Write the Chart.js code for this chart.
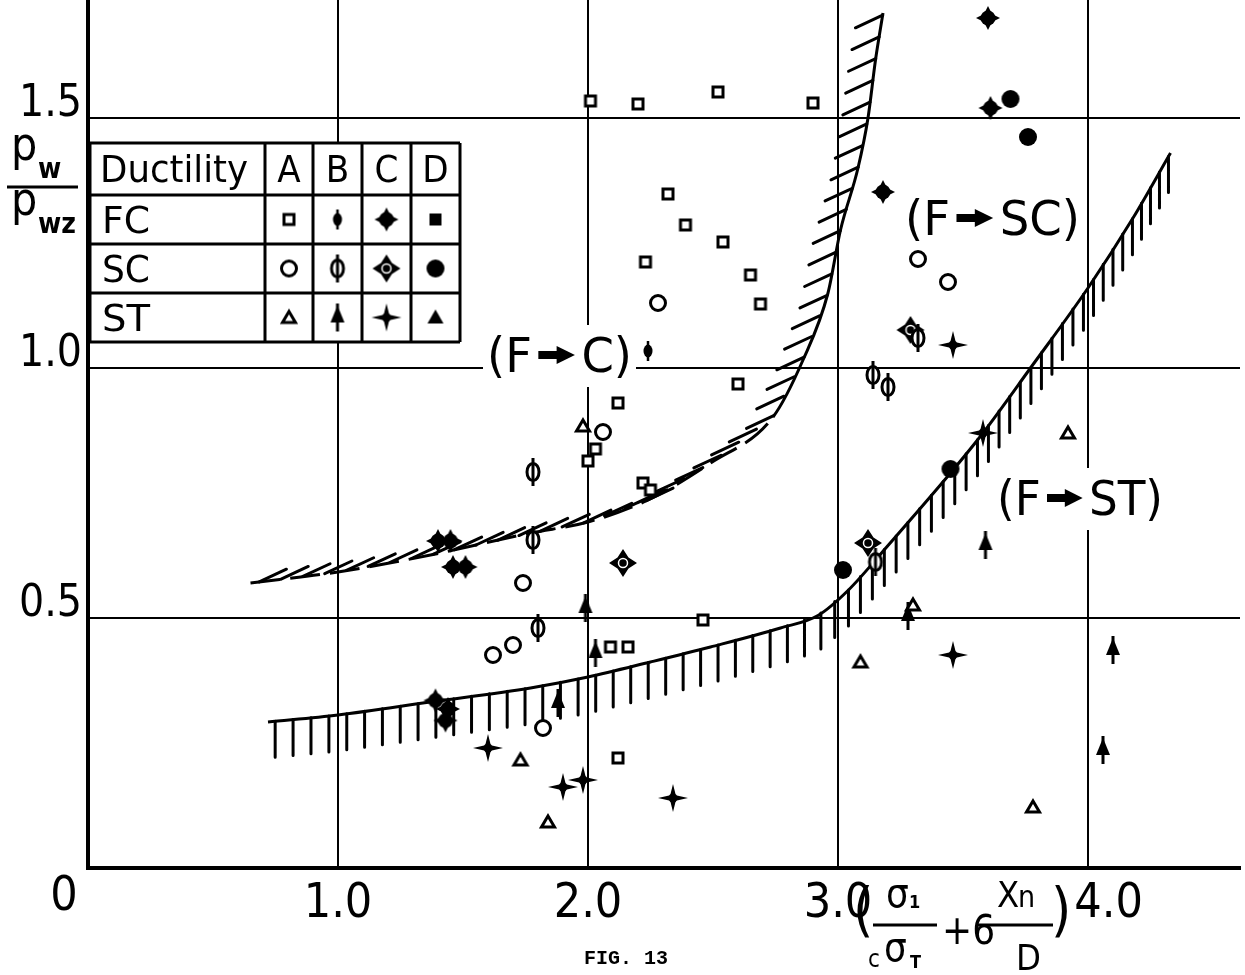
<!DOCTYPE html>
<html>
<head>
<meta charset="utf-8">
<script src="https://cdn.jsdelivr.net/npm/chart.js@4.4.1/dist/chart.umd.min.js"></script>
<style>
  html, body { margin: 0; padding: 0; background: #fff; }
</style>
</head>
<body>
<canvas id="fig13" width="1245" height="975"></canvas>
<script>
// FIG. 13 : pw/pwz against (s1/c sT + 6 Xn/D), failure mode boundaries

const X_TICKS = [1.0, 2.0, 3.0, 4.0];
const Y_TICKS = [0.5, 1.0, 1.5];

// specimens, [x, y] — failure type FC / SC / ST, ductility A..D
const FC_A = [[2.01, 1.534], [2.20, 1.528], [2.52, 1.552], [2.90, 1.530], [2.32, 1.348], [2.39, 1.286],
  [2.54, 1.252], [2.23, 1.212], [2.65, 1.186], [2.69, 1.128], [2.60, 0.968], [2.12, 0.930], [2.03, 0.838],
  [2.00, 0.814], [2.22, 0.770], [2.25, 0.756], [2.46, 0.496], [2.09, 0.442], [2.16, 0.442], [2.12, 0.220]];
const FC_B = [[2.24, 1.034]];
const FC_C = [[3.60, 1.700], [3.61, 1.520], [3.18, 1.352], [1.40, 0.654], [1.45, 0.654], [1.46, 0.602],
  [1.51, 0.602], [1.39, 0.335], [1.44, 0.318], [1.43, 0.295]];
const SC_A = [[2.28, 1.130], [2.06, 0.872], [1.74, 0.570], [1.62, 0.426], [1.70, 0.446], [1.82, 0.280],
  [3.32, 1.218], [3.44, 1.172]];
const SC_B = [[1.78, 0.792], [1.78, 0.656], [1.80, 0.480], [3.32, 1.060], [3.14, 0.986], [3.20, 0.962], [3.15, 0.612]];
const SC_C = [[2.14, 0.610], [3.12, 0.650], [3.29, 1.076]];
const SC_D = [[3.69, 1.538], [3.76, 1.462], [3.02, 0.596], [3.45, 0.798]];
const ST_A = [[1.98, 0.884], [1.73, 0.216], [1.84, 0.092], [3.09, 0.412], [3.30, 0.526], [3.92, 0.870], [3.78, 0.122]];
const ST_B = [[1.99, 0.520], [2.03, 0.430], [1.88, 0.330], [3.59, 0.646], [3.28, 0.504], [4.10, 0.436], [4.06, 0.236]];
const ST_C = [[3.46, 1.046], [3.58, 0.870], [3.46, 0.426], [1.60, 0.240], [1.90, 0.162], [1.98, 0.176], [2.34, 0.140]];

// boundary F -> C (hatched toward upper left)
const FC_BOUND_X = [0.65, 1.00, 1.37, 1.77, 2.00, 2.24, 2.49, 2.74, 2.86, 2.96, 3.01, 3.08, 3.12, 3.15, 3.18];
const FC_BOUND_Y = [0.570, 0.592, 0.626, 0.670, 0.692, 0.736, 0.810, 0.902, 1.016, 1.150, 1.276, 1.400, 1.500, 1.616, 1.710];
// boundary F -> ST (hatched downward)
const ST_BOUND_X = [0.72, 1.00, 1.37, 1.77, 2.00, 2.25, 2.49, 2.77, 2.92, 3.04, 3.20, 3.45, 3.58, 3.77, 4.00, 4.18, 4.33];
const ST_BOUND_Y = [0.292, 0.306, 0.332, 0.360, 0.382, 0.412, 0.442, 0.480, 0.505, 0.555, 0.645, 0.790, 0.870, 1.000, 1.160, 1.300, 1.430];

// region labels: left text, right text, anchor [x, y] in data units
const MODE_LABELS = [
  { from: '(F', to: 'C)', at: [1.596, 1.026], width: 145 },
  { from: '(F', to: 'SC)', at: [3.268, 1.300], width: 175 },
  { from: '(F', to: 'ST)', at: [3.636, 0.740], width: 166 }
];

const TABLE_ROWS = ['FC', 'SC', 'ST'];
const TABLE_COLS = ['A', 'B', 'C', 'D'];

const FONT = '"Liberation Sans Narrow", "DejaVu Sans Condensed", "Liberation Sans", sans-serif';
const INK = '#000';

const toXY = arr => arr.map(p => ({ x: p[0], y: p[1] }));
const zipXY = (xs, ys) => xs.map((x, i) => ({ x, y: ys[i] }));

// ---- marker glyphs ----
const makeMarker = (draw) => {
  const c = document.createElement('canvas');
  c.width = 36; c.height = 36;
  const g = c.getContext('2d');
  g.translate(18, 18);
  g.fillStyle = INK; g.strokeStyle = INK; g.lineWidth = 3; g.lineCap = 'butt';
  draw(g);
  return c;
};
const star4 = (g, rx, ry, ri) => {
  g.beginPath();
  g.moveTo(0, -ry); g.lineTo(ri, -ri); g.lineTo(rx, 0); g.lineTo(ri, ri);
  g.lineTo(0, ry); g.lineTo(-ri, ri); g.lineTo(-rx, 0); g.lineTo(-ri, -ri);
  g.closePath(); g.fill();
};
const stem = (g, a, b, w) => {
  g.lineWidth = w; g.beginPath(); g.moveTo(0, a); g.lineTo(0, b); g.stroke();
};

const MARK = {
  sqOpen: makeMarker(g => { g.fillStyle = '#fff'; g.fillRect(-6, -6, 12, 12); g.strokeRect(-5, -5, 10, 10); }),
  phiSmall: makeMarker(g => { g.beginPath(); g.ellipse(0, 0, 4.5, 6.5, 0, 0, Math.PI * 2); g.fill(); stem(g, -10, 10, 2.5); }),
  fcC: makeMarker(g => { star4(g, 12, 12, 4); g.beginPath(); g.arc(0, 0, 7.5, 0, Math.PI * 2); g.fill(); }),
  sqFill: makeMarker(g => { g.fillRect(-6, -6, 12, 12); }),
  circOpen: makeMarker(g => { g.fillStyle = '#fff'; g.beginPath(); g.arc(0, 0, 7.5, 0, Math.PI * 2); g.fill(); g.stroke(); }),
  phiOpen: makeMarker(g => {
    g.fillStyle = '#fff'; g.beginPath(); g.ellipse(0, 0, 6, 8.5, 0, 0, Math.PI * 2); g.fill(); g.stroke();
    stem(g, -14, 14, 3);
  }),
  scC: makeMarker(g => {
    star4(g, 14, 14, 5.5);
    g.strokeStyle = '#fff'; g.lineWidth = 1.5; g.beginPath(); g.arc(0, 0, 4.5, 0, Math.PI * 2); g.stroke();
  }),
  circFill: makeMarker(g => { g.beginPath(); g.arc(0, 0, 9, 0, Math.PI * 2); g.fill(); }),
  triOpen: makeMarker(g => {
    g.fillStyle = '#fff'; g.lineJoin = 'miter';
    g.beginPath(); g.moveTo(0, -6); g.lineTo(6.5, 5); g.lineTo(-6.5, 5); g.closePath(); g.fill(); g.stroke();
  }),
  stB: makeMarker(g => {
    g.beginPath(); g.moveTo(0, -12); g.lineTo(7, 5); g.lineTo(-7, 5); g.closePath(); g.fill();
    stem(g, -14, 14, 3);
  }),
  stC: makeMarker(g => { star4(g, 15, 14, 2.8); g.beginPath(); g.arc(0, 0, 4.5, 0, Math.PI * 2); g.fill(); }),
  triFill: makeMarker(g => { g.beginPath(); g.moveTo(0, -8); g.lineTo(8, 6); g.lineTo(-8, 6); g.closePath(); g.fill(); })
};

// legend table cell glyphs, row by row
const TABLE_MARKS = [
  [MARK.sqOpen, MARK.phiSmall, MARK.fcC, MARK.sqFill],
  [MARK.circOpen, MARK.phiOpen, MARK.scC, MARK.circFill],
  [MARK.triOpen, MARK.stB, MARK.stC, MARK.triFill]
];

const markerSet = (label, arr, glyph) => ({
  label, data: toXY(arr), pointStyle: glyph, pointRadius: 8, showLine: false, order: 0, clip: false
});

// ---- helpers ----
const fitText = (ctx, txt, x, y, w) => {
  const mw = ctx.measureText(txt).width;
  ctx.save(); ctx.translate(x, y); ctx.scale(w / mw, 1); ctx.fillText(txt, 0, 0); ctx.restore();
};

const hatchAlong = (ctx, pts, step, len, dirAt) => {
  let carry = step * 0.4;
  for (let i = 0; i < pts.length - 1; i++) {
    const a = pts[i], b = pts[i + 1];
    const dx = b.x - a.x, dy = b.y - a.y, seg = Math.hypot(dx, dy);
    if (seg === 0) continue;
    const tx = dx / seg, ty = dy / seg;
    let s = carry;
    while (s <= seg) {
      const px = a.x + tx * s, py = a.y + ty * s;
      const [ux, uy] = dirAt(tx, ty);
      ctx.moveTo(px, py); ctx.lineTo(px + ux * len, py + uy * len);
      s += step;
    }
    carry = s - seg;
  }
};

const HATCH_ANGLE = 25 * Math.PI / 180;
const hatchPlugin = {
  id: 'hatch',
  afterDatasetDraw(chart, args) {
    const ds = chart.data.datasets[args.index];
    if (!ds.hatch) return;
    const ctx = chart.ctx;
    const pts = args.meta.data.map(p => ({ x: p.x, y: p.y }));
    ctx.save();
    ctx.strokeStyle = INK; ctx.lineWidth = 3; ctx.lineCap = 'round';
    ctx.beginPath();
    if (ds.hatch === 'down') {
      hatchAlong(ctx, pts, 18, 36, () => [0, 1]);
    } else {
      const d = [Math.cos(HATCH_ANGLE), -Math.sin(HATCH_ANGLE)];
      hatchAlong(ctx, pts, 22, 30, (tx, ty) => {
        const dot = d[0] * ty + d[1] * (-tx);
        return dot >= 0 ? d : [-d[0], -d[1]];
      });
    }
    ctx.stroke();
    ctx.restore();
  }
};

const drawModeLabel = (ctx, spec, xs, ys) => {
  const size = 48;
  const x = xs.getPixelForValue(spec.at[0]);
  const cy = ys.getPixelForValue(spec.at[1]);
  ctx.font = size + 'px ' + FONT;
  const w1 = ctx.measureText(spec.from).width;
  const w2 = ctx.measureText(spec.to).width;
  const gap = 6, aw = 34;
  const k = spec.width / (w1 + w2 + aw + gap * 2);
  ctx.fillStyle = '#fff';
  ctx.fillRect(x - 4, cy - 30, spec.width + 8, 62);
  ctx.save();
  ctx.translate(x, cy);
  ctx.scale(k, 1);
  ctx.fillStyle = INK;
  ctx.textBaseline = 'alphabetic';
  const base = size * 0.36;
  ctx.fillText(spec.from, 0, base);
  const ax = w1 + gap;
  ctx.fillRect(ax, -4, aw * 0.55, 8);
  ctx.beginPath();
  ctx.moveTo(ax + aw * 0.5, -9); ctx.lineTo(ax + aw, 0); ctx.lineTo(ax + aw * 0.5, 9);
  ctx.closePath(); ctx.fill();
  ctx.fillText(spec.to, ax + aw + gap, base);
  ctx.restore();
};

const labelPlugin = {
  id: 'modeLabels',
  beforeDatasetsDraw(chart) {
    const ctx = chart.ctx;
    ctx.save();
    MODE_LABELS.forEach(l => drawModeLabel(ctx, l, chart.scales.x, chart.scales.y));
    ctx.restore();
  }
};

const annotatePlugin = {
  id: 'annotate',
  afterDraw(chart) {
    const ctx = chart.ctx;
    ctx.save();
    ctx.fillStyle = INK; ctx.strokeStyle = INK;

    // ductility table
    const colX = [90, 265, 313, 362, 411, 460];
    const rowY = [143, 195, 244, 293, 342];
    ctx.fillStyle = '#fff';
    ctx.fillRect(colX[0], rowY[0], colX[5] - colX[0], rowY[4] - rowY[0]);
    ctx.fillStyle = INK;
    ctx.lineWidth = 3;
    ctx.beginPath();
    colX.forEach(cx => { ctx.moveTo(cx, rowY[0]); ctx.lineTo(cx, rowY[4]); });
    rowY.forEach(ry => { ctx.moveTo(colX[0], ry); ctx.lineTo(colX[5], ry); });
    ctx.stroke();
    ctx.textBaseline = 'alphabetic';
    ctx.font = '38px ' + FONT;
    fitText(ctx, 'Ductility', 100, 182, 148);
    TABLE_COLS.forEach((c, i) => {
      ctx.textAlign = 'center';
      ctx.fillText(c, (colX[i + 1] + colX[i + 2]) / 2, 182);
    });
    ctx.textAlign = 'left';
    TABLE_ROWS.forEach((r, j) => {
      fitText(ctx, r, 102, rowY[j + 2] - 11, 48);
      TABLE_MARKS[j].forEach((m, i) => {
        const cx = (colX[i + 1] + colX[i + 2]) / 2;
        const cy = (rowY[j + 1] + rowY[j + 2]) / 2;
        ctx.drawImage(m, cx - 18, cy - 18);
      });
    });

    // origin label
    ctx.font = '48px ' + FONT;
    ctx.textAlign = 'center';
    ctx.textBaseline = 'middle';
    ctx.fillText('0', 64, 898);

    // y title pw / pwz
    ctx.textAlign = 'left';
    ctx.textBaseline = 'alphabetic';
    ctx.font = '46px ' + FONT;
    ctx.fillText('p', 11, 160);
    ctx.fillText('p', 11, 215);
    ctx.font = 'bold 28px ' + FONT;
    ctx.fillText('w', 38, 178);
    ctx.fillText('wz', 38, 233);
    ctx.lineWidth = 3;
    ctx.beginPath(); ctx.moveTo(7, 187); ctx.lineTo(78, 187); ctx.stroke();

    // x title (s1 / c sT + 6 Xn / D)
    ctx.textBaseline = 'middle';
    ctx.font = '58px ' + FONT;
    ctx.fillText('(', 853, 915);
    ctx.fillText(')', 1051, 915);
    ctx.textBaseline = 'alphabetic';
    ctx.font = '40px ' + FONT;
    ctx.fillText('\u03c3', 886, 907);
    ctx.fillText('\u03c3', 884, 961);
    ctx.font = 'bold 18px ' + FONT;
    ctx.fillText('1', 909, 908);
    ctx.fillText('T', 910, 968);
    ctx.font = '24px ' + FONT;
    ctx.fillText('c', 868, 967);
    ctx.font = '40px ' + FONT;
    ctx.fillText('+6', 942, 944);
    ctx.font = '36px ' + FONT;
    ctx.fillText('X', 997, 907);
    ctx.fillText('D', 1016, 970);
    ctx.font = '30px ' + FONT;
    ctx.fillText('n', 1018, 907);
    ctx.beginPath();
    ctx.moveTo(873, 925); ctx.lineTo(937, 925);
    ctx.moveTo(977, 925); ctx.lineTo(1053, 925);
    ctx.stroke();

    // caption
    ctx.font = 'bold 20px "Liberation Mono", "DejaVu Sans Mono", monospace';
    ctx.textAlign = 'center';
    ctx.fillText('FIG. 13', 626, 964);
    ctx.restore();
  }
};

const fixTicks = list => scale => { scale.ticks = list.map(v => ({ value: v })); };

new Chart(document.getElementById('fig13'), {
  type: 'scatter',
  data: {
    datasets: [
      markerSet('FC-A', FC_A, MARK.sqOpen),
      markerSet('FC-B', FC_B, MARK.phiSmall),
      markerSet('FC-C', FC_C, MARK.fcC),
      markerSet('SC-A', SC_A, MARK.circOpen),
      markerSet('SC-B', SC_B, MARK.phiOpen),
      markerSet('SC-C', SC_C, MARK.scC),
      markerSet('SC-D', SC_D, MARK.circFill),
      markerSet('ST-A', ST_A, MARK.triOpen),
      markerSet('ST-B', ST_B, MARK.stB),
      markerSet('ST-C', ST_C, MARK.stC),
      {
        label: 'F-C boundary',
        data: zipXY(FC_BOUND_X, FC_BOUND_Y),
        showLine: true, pointRadius: 0, borderColor: INK, borderWidth: 3,
        cubicInterpolationMode: 'monotone', order: 10, hatch: 'slant',
        segment: { borderDash: c => (c.p0.parsed.x < 2.55 ? [30, 10] : undefined) }
      },
      {
        label: 'F-ST boundary',
        data: zipXY(ST_BOUND_X, ST_BOUND_Y),
        showLine: true, pointRadius: 0, borderColor: INK, borderWidth: 3,
        cubicInterpolationMode: 'monotone', order: 10, hatch: 'down'
      }
    ]
  },
  options: {
    responsive: false,
    animation: false,
    devicePixelRatio: 1,
    // plot runs up to the very top edge of the page
    layout: { autoPadding: false, padding: { top: 0, right: 5, left: 0, bottom: 0 } },
    plugins: { legend: { display: false }, tooltip: { enabled: false } },
    scales: {
      x: {
        type: 'linear', min: 0, max: 4.608,
        afterBuildTicks: fixTicks(X_TICKS),
        afterFit: s => { s.height = 107; s.paddingLeft = 0; s.paddingRight = 0; },
        ticks: {
          color: INK, padding: 8, maxRotation: 0, autoSkip: false,
          font: { family: FONT, size: 48 },
          // the 4.0 label sits right of its line, clear of the axis title
          callback: v => (v === 4 ? '\u2007\u2008' : '') + v.toFixed(1)
        },
        grid: { color: INK, lineWidth: 2, drawTicks: false },
        border: { color: INK, width: 4 }
      },
      y: {
        type: 'linear', min: 0, max: 1.736,
        afterBuildTicks: fixTicks(Y_TICKS),
        afterFit: s => { s.width = 88; s.paddingTop = 0; s.paddingBottom = 0; },
        ticks: {
          color: INK, padding: 6, labelOffset: -13, autoSkip: false,
          font: { family: FONT, size: 44 },
          callback: v => v.toFixed(1)
        },
        grid: { color: INK, lineWidth: 2, drawTicks: false },
        border: { color: INK, width: 4 }
      }
    }
  },
  plugins: [hatchPlugin, labelPlugin, annotatePlugin]
});
</script>
</body>
</html>
